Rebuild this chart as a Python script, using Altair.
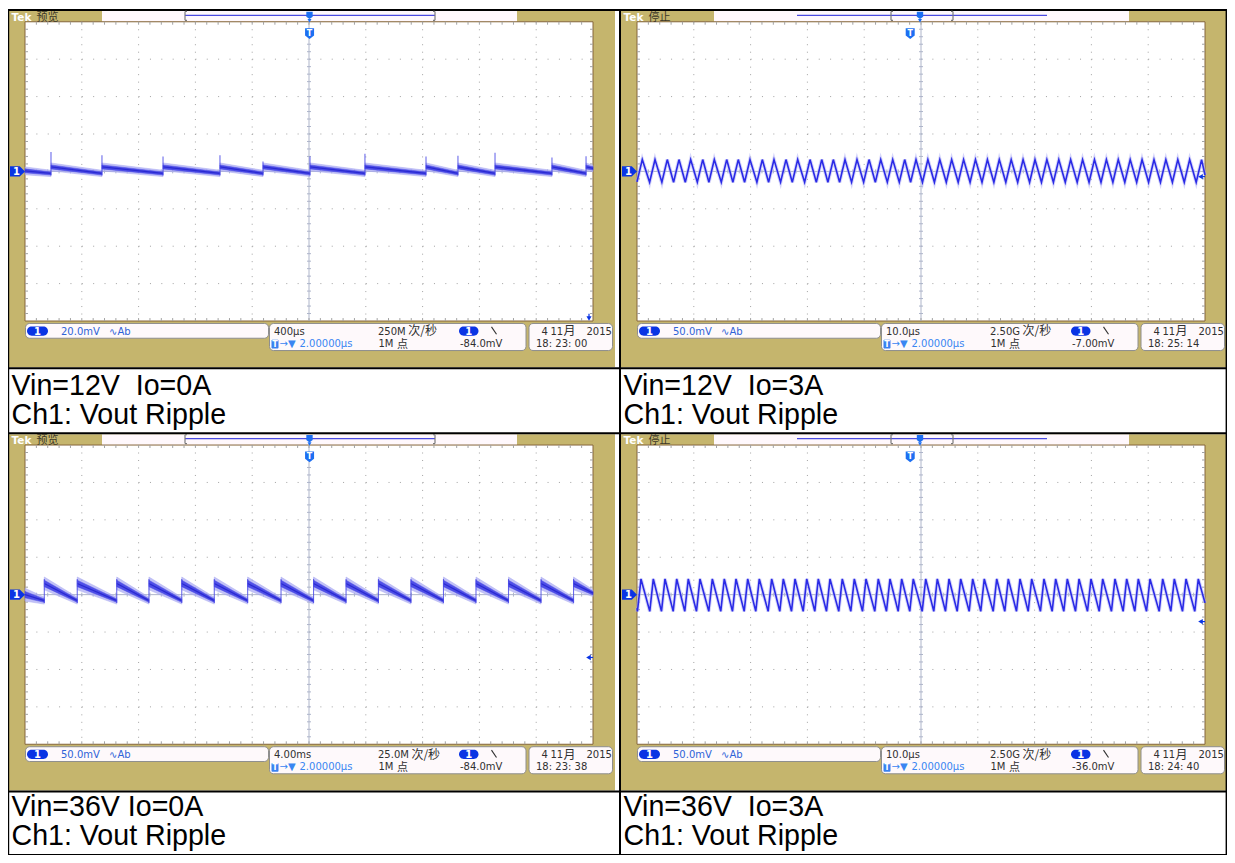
import altair as alt
import numpy as np
import pandas as pd

# ================= values =================
scope_state = ["预览", "停止", "预览", "停止"]
caption_line1 = ["Vin=12V\u00a0\u00a0Io=0A", "Vin=12V\u00a0\u00a0Io=3A",
                 "Vin=36V Io=0A", "Vin=36V\u00a0\u00a0Io=3A"]
caption_line2 = ["Ch1: Vout Ripple", "Ch1: Vout Ripple",
                 "Ch1: Vout Ripple", "Ch1: Vout Ripple"]
volts_label = ["20.0mV", "50.0mV", "50.0mV", "50.0mV"]
time_label = ["400µs", "10.0µs", "4.00ms", "10.0µs"]
rate_number = ["250M", "2.50G", "25.0M", "2.50G"]
rate_unit = ["次/秒", "次/秒", "次/秒", "次/秒"]
trig_label = ["-84.0mV", "-7.00mV", "-84.0mV", "-36.0mV"]
trig_mv = [-84.0, -7.0, -84.0, -36.0]
clock_label = ["18: 23: 00", "18: 25: 14", "18: 23: 38", "18: 24: 40"]
date_parts = ["4", "11", "月", "2015"]
delay_label = "2.00000µs"
record_parts = ["1M", "点"]
bw_label = "∿Ab"
mv_per_div = [20.0, 50.0, 50.0, 50.0]
t_per_div = [400.0, 10.0, 4.0, 10.0]          # µs, µs, ms, µs
trig_pos_div = [5.01, 4.81, 5.01, 4.81]        # "T" marker position (div)

# panel 1 : Vin=12V Io=0A  (time in µs from screen left, mV)
p1_jump_t = [183, 542, 972, 1373, 1676, 2007, 2394, 2824, 3049, 3310, 3711, 3951]
p1_spike_mv = [10.4, 8.6, 7.9, 8.6, 5.3, 7.9, 9.5, 7.9, 8.4, 10.0, 7.4, 8.1]
p1_start_mv, p1_before_mv, p1_after_mv, p1_end_mv, p1_spike_lo = 0.3, -1.1, 2.4, 1.6, -2.2

# panel 2 : Vin=12V Io=3A  (µs, mV)
p2_peak_t = [0.93, 3.17, 5.33, 7.39, 9.45, 11.57, 13.61, 15.79, 17.83, 19.89, 22.06,
             24.12, 26.23, 28.29, 30.46, 32.52, 34.56, 36.62, 38.73, 40.85, 42.91,
             45.02, 47.13, 49.12, 51.21, 53.31, 55.40, 57.50, 59.59, 61.69, 63.78,
             65.88, 67.97, 70.07, 72.16, 74.26, 76.35, 78.45, 80.54, 82.64, 84.73,
             86.83, 88.92, 91.02, 93.11, 95.21, 97.30, 99.40]
p2_rise_t, p2_peak_mv, p2_trough_mv, p2_start_mv, p2_end_mv = 0.95, 15.8, -14.5, -14.0, -5.0

# panel 3 : Vin=36V Io=0A  (ms, mV)
p3_jump_t = [1.36, 3.68, 6.46, 8.73, 11.04, 13.33, 15.68, 18.03, 20.32, 22.61,
             24.89, 27.18, 29.47, 31.76, 34.05, 36.34, 38.63]
p3_start_mv, p3_before_mv, p3_after_mv, p3_end_mv = 0.0, -8.0, 15.0, 2.0
p3_spike_lo, p3_spike_hi = -11.0, 21.0

# panel 4 : Vin=36V Io=3A  (µs, mV)
p4_peak_t = [0.70, 2.87, 4.93, 6.99, 9.03, 11.09, 13.26, 15.37, 17.43, 19.49, 21.53,
             23.71, 25.76, 27.82, 29.88, 31.92, 33.98, 36.14, 38.26, 40.32, 42.48,
             44.54, 46.60, 48.64, 50.83, 52.87, 54.93, 56.99, 59.10, 61.14, 63.33,
             65.37, 67.43, 69.49, 71.65, 73.71, 75.76, 77.82, 79.93, 81.99, 84.15,
             86.21, 88.26, 90.32, 92.55, 94.60, 96.66, 98.82]
p4_rise_t, p4_peak_mv, p4_trough_mv, p4_start_mv, p4_end_mv = 0.62, 21.0, -22.4, -18.0, -11.0

# ================= layout (reference pixels) =================
W, H = 1219, 847
Y_LO, Y_HI = 2.0, 862.5
KY = H / (Y_HI - Y_LO)
XS = alt.Scale(domain=[8, 8 + W], nice=False, zero=False)
YS = alt.Scale(domain=[Y_LO, Y_HI], nice=False, zero=False, reverse=True)
DX = [0, 612, 0, 612]
DY = [0, 0, 430, 430]
SX0, SX1, SY0, SY1 = 25.0, 593.0, 16.0, 320.0
DW, DH = 56.8, 38.0
CX, CY = SX0 + 5 * DW, SY0 + 4 * DH
cap_base = [(395.0, 424.5), (395.0, 424.5), (822.5, 852.3), (822.5, 852.3)]
pin_x = [309.5, 308.0, 309.5, 308.0]
bracket = [(185, 435), (279, 341), (185, 435), (279, 341)]
band_half = {0: (4.0, 3.2), 2: (6.5, 3.5)}   # band half-thickness (px) at start / end of a ramp

TAN = "#C5B56D"
HDRW = "#FFF8FC"
GRID = "#A2A2A2"
CENTER = "#AEB5CA"
TRACE = "#2A2AE6"
PILL = "#0A34E4"
TBLUE = "#1C6FF2"


def to_px(p, t, mv):
    t = np.asarray(t, float)
    mv = np.asarray(mv, float)
    return (DX[p] + SX0 + t / t_per_div[p] * DW,
            DY[p] + CY - mv / mv_per_div[p] * DH)


def ex(f="x"):
    return alt.X(f + ":Q", scale=XS, axis=None)


def ey(f="y"):
    return alt.Y(f + ":Q", scale=YS, axis=None)


def rects(rows, **mark):
    df = pd.DataFrame(rows)
    enc = dict(x=ex(), x2="x2:Q", y=ey(), y2="y2:Q")
    if "c" in df.columns:
        enc["color"] = alt.Color("c:N", scale=None)
    return alt.Chart(df).mark_rect(clip=True, **mark).encode(**enc)


def rules(rows, **mark):
    df = pd.DataFrame(rows)
    return alt.Chart(df).mark_rule(clip=True, **mark).encode(
        x=ex(), x2="x2:Q", y=ey(), y2="y2:Q", color=alt.Color("c:N", scale=None))


def lines(rows, **mark):
    df = pd.DataFrame(rows)
    return alt.Chart(df).mark_line(clip=True, **mark).encode(
        x=ex(), y=ey(), detail="seg:N", order="i:Q")


def points(rows, shape, size, color):
    df = pd.DataFrame(rows)
    return alt.Chart(df).mark_point(clip=True, shape=shape, size=size, filled=True,
                                    color=color, opacity=1, strokeWidth=0).encode(x=ex(), y=ey())


def texts(rows, font, size, color, weight="normal", align="left"):
    df = pd.DataFrame(rows)
    return alt.Chart(df).mark_text(clip=True, font=font, fontSize=size, fontWeight=weight,
                                   color=color, align=align, baseline="alphabetic").encode(
        x=ex(), y=ey(), text="t:N")


def L(x, x2, y, y2, c):
    return dict(x=x, x2=x2, y=y, y2=y2, c=c)


# ---------- backgrounds ----------
bg = []
for p in range(4):
    dx, dy = DX[p], DY[p]
    bg.append(L(dx + 9, dx + 615, dy + 5, dy + 367, TAN))
    bg.append(L(dx + 102, dx + 517, dy + 5, dy + 16, HDRW))
for (a, b) in [(7, 9.2), (619, 621), (1225.6, 1227)]:
    bg.append(L(a, b, 3, 863, "#000000"))
for (a, b) in [(3, 5), (367, 369), (433, 435), (797, 799), (861.5, 863)]:
    bg.append(L(7, 1233, a, b, "#000000"))

screens = [dict(x=DX[p] + SX0, x2=DX[p] + SX1, y=DY[p] + SY0, y2=DY[p] + SY1) for p in range(4)]

# ---------- grid ----------
vdots, hdots, solid = [], [], []
for p in range(4):
    dx, dy = DX[p], DY[p]
    for i in range(1, 10):
        if i != 5:
            x = dx + SX0 + i * DW
            vdots.append(L(x, x, dy + SY0, dy + SY1, GRID))
    for j in range(1, 8):
        if j != 4:
            y = dy + SY0 + j * DH
            hdots.append(L(dx + SX0, dx + SX1, y, y, GRID))
    solid.append(L(dx + CX, dx + CX, dy + SY0, dy + SY1, CENTER))
    solid.append(L(dx + SX0, dx + SX1, dy + CY, dy + CY, CENTER))
    for k in range(1, 50):
        x = dx + SX0 + k * DW / 5
        solid.append(L(x, x, dy + SY0, dy + SY0 + 3, GRID))
        solid.append(L(x, x, dy + SY1 - 3, dy + SY1, GRID))
        solid.append(L(x, x, dy + CY - 2, dy + CY + 2, CENTER))
    for k in range(1, 40):
        y = dy + SY0 + k * DH / 5
        solid.append(L(dx + SX0, dx + SX0 + 3, y, y, GRID))
        solid.append(L(dx + SX1 - 3, dx + SX1, y, y, GRID))
        solid.append(L(dx + CX - 2, dx + CX + 2, y, y, CENTER))

# ---------- header record bar ----------
hdr = []
for p in range(4):
    dx, dy = DX[p], DY[p]
    hdr.append(L(dx + 185, dx + 435, dy + 9.5, dy + 9.5, "#4A4AE0"))
    for bx, s in zip(bracket[p], (1, -1)):
        hdr.append(L(dx + bx, dx + bx, dy + 5.5, dy + 14.5, "#7A7A7A"))
        hdr.append(L(dx + bx, dx + bx + 2 * s, dy + 5.5, dy + 5.5, "#7A7A7A"))
        hdr.append(L(dx + bx, dx + bx + 2 * s, dy + 14.5, dy + 14.5, "#7A7A7A"))

# ---------- waveforms ----------
poly_outer, poly_inner, band_core, spikes, tri = [], [], [], [], []


def seg(p, k, t0, v0, t1, v1):
    xs, ys = to_px(p, [t0, t1], [v0, v1])
    h0, h1 = band_half[p]
    sid = f"{p}_{k}"
    for tgt, f in ((poly_outer, 1.0), (poly_inner, 0.5)):
        tgt += [dict(seg=sid, i=0, x=xs[0], y=ys[0] - f * h0),
                dict(seg=sid, i=1, x=xs[1], y=ys[1] - f * h1),
                dict(seg=sid, i=2, x=xs[1], y=ys[1] + f * h1),
                dict(seg=sid, i=3, x=xs[0], y=ys[0] + f * h0),
                dict(seg=sid, i=4, x=xs[0], y=ys[0] - f * h0)]
    band_core.append(dict(seg=sid, i=0, x=xs[0], y=ys[0]))
    band_core.append(dict(seg=sid, i=1, x=xs[1], y=ys[1]))


def build_band(p, jumps, start_mv, before_mv, after_mv, end_mv, spike_lo, spike_hi):
    t_end = 10 * t_per_div[p]
    seg(p, 0, 0.0, start_mv, jumps[0], before_mv)
    for k, tj in enumerate(jumps):
        last = k + 1 == len(jumps)
        seg(p, k + 1, tj, after_mv, t_end if last else jumps[k + 1], end_mv if last else before_mv)
        xs, ys = to_px(p, [tj, tj], [spike_lo, spike_hi[k]])
        spikes.append(L(xs[0], xs[1], ys[0], ys[1], "#4646E6"))


def build_tri(p, peaks, rise, pk_mv, tr_mv, start_mv, end_mv):
    pts = [(0.0, start_mv)]
    for tp in peaks:
        if tp - rise > 0:
            pts.append((tp - rise, tr_mv))
        pts.append((tp, pk_mv))
    pts.append((10 * t_per_div[p], end_mv))
    t, v = zip(*pts)
    xs, ys = to_px(p, t, v)
    for i in range(len(xs)):
        tri.append(dict(seg=str(p), i=i, x=xs[i], y=ys[i]))


build_band(0, p1_jump_t, p1_start_mv, p1_before_mv, p1_after_mv, p1_end_mv, p1_spike_lo, p1_spike_mv)
build_band(2, p3_jump_t, p3_start_mv, p3_before_mv, p3_after_mv, p3_end_mv, p3_spike_lo,
           [p3_spike_hi] * len(p3_jump_t))
build_tri(1, p2_peak_t, p2_rise_t, p2_peak_mv, p2_trough_mv, p2_start_mv, p2_end_mv)
build_tri(3, p4_peak_t, p4_rise_t, p4_peak_mv, p4_trough_mv, p4_start_mv, p4_end_mv)

# ---------- markers ----------
shield = "M-0.85,-1L0.85,-1L0.85,0.35L0,1L-0.85,0.35Z"
pent = "M-1,-0.67L0.3,-0.67L1,0L0.3,0.67L-1,0.67Z"
tee_pts, pin_pts, pin_tips, gnd_pts, arr_left, arr_down, arr_stems = [], [], [], [], [], [], []
for p in range(4):
    dx, dy = DX[p], DY[p]
    tee_pts.append(dict(x=dx + SX0 + trig_pos_div[p] * DW, y=dy + 28))
    pin_pts.append(dict(x=dx + pin_x[p], y=dy + 9.5))
    pin_tips.append(dict(x=dx + pin_x[p], y=dy + 15))
    gnd_pts.append(dict(x=dx + 17.5, y=dy + CY))
    ty = dy + CY - trig_mv[p] / mv_per_div[p] * DH
    if ty > dy + SY1:
        arr_down.append(dict(x=dx + 589, y=dy + 317.5))
        arr_stems.append(L(dx + 589, dx + 589, dy + 312.5, dy + 316, PILL))
    else:
        arr_left.append(dict(x=dx + 588.5, y=ty))
        arr_stems.append(L(dx + 589, dx + 593, ty, ty, PILL))

# ---------- status bar ----------
boxes, pills, icons, slopes = [], [], [], []
for p in range(4):
    dx, dy = DX[p], DY[p]
    boxes.append(dict(x=dx + 25.5, x2=dx + 268.5, y=dy + 322.5, y2=dy + 337.5))
    boxes.append(dict(x=dx + 269.5, x2=dx + 526, y=dy + 322.5, y2=dy + 350))
    boxes.append(dict(x=dx + 529, x2=dx + 612.5, y=dy + 322.5, y2=dy + 350))
    pills.append(dict(x=dx + 27, x2=dx + 48, y=dy + 325.5, y2=dy + 335))
    pills.append(dict(x=dx + 459, x2=dx + 478.5, y=dy + 325.5, y2=dy + 335))
    icons.append(dict(x=dx + 271.5, x2=dx + 278.5, y=dy + 339, y2=dy + 348))
    slopes.append(L(dx + 491.5, dx + 496.5, dy + 326, dy + 333.5, "#303030"))

DJW = {"0": .636, "1": .636, "2": .636, "3": .636, "4": .636, "5": .636, "6": .636,
       "7": .636, "8": .636, "9": .636, ".": .318, "M": .863, "G": .775}

T = {k: [] for k in ["cap", "dark", "cjk", "cjk2", "blue", "lblue", "pill", "tee", "tek", "state"]}
for p in range(4):
    dx, dy = DX[p], DY[p]
    b1, b2 = cap_base[p]
    T["cap"] += [dict(x=dx + 11.5, y=b1, t=caption_line1[p]), dict(x=dx + 11.5, y=b2, t=caption_line2[p])]
    T["tek"].append(dict(x=dx + 11.5, y=dy + 14.8, t="Tek"))
    T["state"].append(dict(x=dx + 36.5, y=dy + 15.3, t=scope_state[p]))
    r1, r2 = dy + 334, dy + 346.5
    T["blue"] += [dict(x=dx + 61, y=r1, t=volts_label[p]), dict(x=dx + 109, y=r1, t=bw_label)]
    wnum = sum(DJW.get(ch, .6) for ch in rate_number[p]) * 10
    T["dark"] += [dict(x=dx + 274, y=r1, t=time_label[p]),
                  dict(x=dx + 378, y=r1, t=rate_number[p]),
                  dict(x=dx + 378.5, y=r2, t=record_parts[0]),
                  dict(x=dx + 460, y=r2, t=trig_label[p]),
                  dict(x=dx + 541.5, y=r1, t=date_parts[0]),
                  dict(x=dx + 550.5, y=r1, t=date_parts[1]),
                  dict(x=dx + 586.5, y=r1, t=date_parts[3]),
                  dict(x=dx + 536, y=r2, t=clock_label[p])]
    T["cjk"] += [dict(x=dx + 380.5 + wnum, y=r1 + 0.5, t=rate_unit[p]),
                 dict(x=dx + 563.5, y=r1 + 0.5, t=date_parts[2])]
    T["cjk2"].append(dict(x=dx + 397, y=r2 + 0.5, t=record_parts[1]))
    T["lblue"] += [dict(x=dx + 279.5, y=r2, t="→▼"), dict(x=dx + 299.5, y=r2, t=delay_label)]
    T["pill"] += [dict(x=dx + 37.5, y=r1, t="1"), dict(x=dx + 468.75, y=r1, t="1"),
                  dict(x=dx + 16.5, y=dy + CY + 3.8, t="1")]
    T["tee"] += [dict(x=dx + 275, y=r2, t="T"),
                 dict(x=dx + SX0 + trig_pos_div[p] * DW, y=dy + 30.5, t="T")]

DJ = "DejaVu Sans, Noto Sans CJK SC"
CJK = "Noto Sans CJK SC"

layers = [
    rects(bg),
    rects(screens, fill="#FFFFFF", stroke="#85653A", strokeWidth=1),
    rules(vdots, strokeDash=[1, DH / 5 * KY - 1], strokeWidth=1),
    rules(hdots, strokeDash=[1, DW / 5 - 1], strokeWidth=1),
    rules(solid, strokeWidth=1),
    rules(hdr, strokeWidth=1.2),
    lines(poly_outer, fill="#A8A8F2", fillOpacity=0.7, stroke="#A8A8F2", strokeWidth=1,
          strokeOpacity=0.5),
    lines(poly_inner, fill="#4343E6", fillOpacity=0.9, stroke="#4343E6", strokeWidth=0.8,
          strokeOpacity=0.6),
    lines(band_core, color="#2020CC", strokeWidth=1.2, opacity=0.8),
    rules(spikes, strokeWidth=1.1, opacity=0.8),
    lines(tri, color="#B4B4F6", strokeWidth=3.6, opacity=0.55),
    lines(tri, color=TRACE, strokeWidth=1.6),
    points(tee_pts, shield, 112, TBLUE),
    points(pin_pts, shield, 56, TBLUE),
    points(pin_tips, "triangle-down", 16, TBLUE),
    points(gnd_pts, pent, 225, PILL),
    rules(arr_stems, strokeWidth=1.2),
    rects(boxes, cornerRadius=4, fill="#FEF9FB", stroke="#8E8E8E", strokeWidth=1),
    rects(pills, cornerRadius=4.7, fill=PILL),
    rects(icons, cornerRadius=1, fill="#3A82F0"),
    rules(slopes, strokeWidth=1.1),
    texts(T["cap"], "Liberation Sans", 28.6, "#000000"),
    texts(T["tek"], "DejaVu Sans", 10.5, "#FFFFFF", weight="bold"),
    texts(T["state"], CJK, 11, "#3C3828"),
    texts(T["blue"], DJ, 10, "#2E63D8"),
    texts(T["dark"], DJ, 10, "#303030"),
    texts(T["cjk"], CJK, 12, "#303030"),
    texts(T["cjk2"], CJK, 11, "#303030"),
    texts(T["lblue"], DJ, 10, "#3A86F2"),
    texts(T["pill"], "DejaVu Sans", 10, "#FFFFFF", weight="bold", align="center"),
    texts(T["tee"], "DejaVu Sans", 8, "#FFFFFF", weight="bold", align="center"),
]
if arr_left:
    layers.append(points(arr_left, "triangle-left", 28, PILL))
if arr_down:
    layers.append(points(arr_down, "triangle-down", 26, PILL))

chart = alt.layer(*layers).properties(
    width=W, height=H, padding=0, background="white",
    autosize=alt.AutoSizeParams(type="none"),
).configure_view(stroke=None)

chart.save("out.html", embed_options={"renderer": "svg", "actions": False})
